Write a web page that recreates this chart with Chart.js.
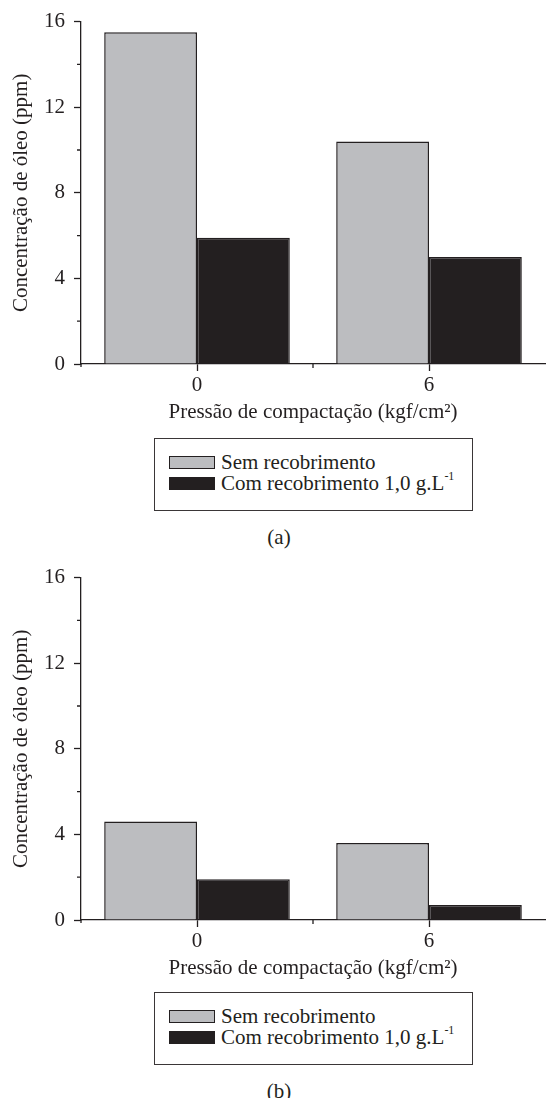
<!DOCTYPE html>
<html>
<head>
<meta charset="utf-8">
<script src="https://cdn.jsdelivr.net/npm/chart.js@4.4.0/dist/chart.umd.min.js"></script>
<style>
  body { margin: 0; background: #fff; width: 546px; height: 1098px; position: relative; overflow: hidden;
         font-family: 'Liberation Serif', 'Times New Roman', serif; color: #231f20; }
  canvas { position: absolute; left: 0; }
  .legend { position: absolute; left: 154px; width: 317px; height: 71px; border: 1px solid #3a3637; }
  .legend-row { position: absolute; left: 14px; height: 21px; line-height: 21px; display: flex; align-items: center;
                font-size: 21px; white-space: nowrap; }
  .swatch { width: 44px; height: 11px; border: 1px solid #231f20; margin-right: 6px; }
  .legend-row sup { font-size: 12px; line-height: 0; position: relative; top: -2px; }
  .caption { position: absolute; font-size: 21px; transform: translate(-50%, -50%); }
</style>
</head>
<body>
<canvas id="chart-a" width="546" height="428" style="top:0px"></canvas>
<div class="legend" id="legend-a" style="top:438px"></div>
<div class="caption" style="left:279px; top:537px">(a)</div>

<canvas id="chart-b" width="546" height="428" style="top:556px"></canvas>
<div class="legend" id="legend-b" style="top:992px"></div>
<div class="caption" style="left:279px; top:1091px">(b)</div>

<script>
// data
const categories = ['0', '6'];
const seriesLabels = ['Sem recobrimento', 'Com recobrimento 1,0 g.L^-1'];
const semRecobrimentoA = [15.5, 10.4];
const comRecobrimentoA = [5.9, 5.0];
const semRecobrimentoB = [4.6, 3.6];
const comRecobrimentoB = [1.9, 0.7];
const yMajorTicks = [0, 4, 8, 12, 16];
const yMinorTicks = [2, 6, 10, 14];

const ink = '#231f20';
const gray = '#bcbdc0';
const fontFamily = "'Liberation Serif', 'Times New Roman', serif";

// short minor ticks on the y axis and the boundary tick between groups
const minorTicks = {
    id: 'minorTicks',
    afterDraw(chart) {
        const { ctx, scales: { x, y } } = chart;
        ctx.save();
        ctx.strokeStyle = ink;
        ctx.lineWidth = 1.3;
        ctx.beginPath();
        yMinorTicks.forEach(v => {
            const py = y.getPixelForValue(v);
            ctx.moveTo(y.right - 4, py);
            ctx.lineTo(y.right, py);
        });
        const mid = (x.getPixelForTick(0) + x.getPixelForTick(1)) / 2;
        ctx.moveTo(mid, x.top);
        ctx.lineTo(mid, x.top + 4);
        ctx.moveTo(x.left, x.top);
        ctx.lineTo(x.left, x.top + 3);
        ctx.stroke();
        ctx.restore();
    }
};

function makeChart(id, semData, comData) {
    return new Chart(document.getElementById(id), {
        type: 'bar',
        data: {
            labels: categories,
            datasets: [
                { label: seriesLabels[0], data: semData, backgroundColor: gray, borderColor: ink, borderWidth: 1.5 },
                { label: seriesLabels[1], data: comData, backgroundColor: ink, borderColor: ink, borderWidth: 1.5 }
            ]
        },
        options: {
            responsive: false,
            animation: false,
            events: [],
            layout: { padding: { top: 21, right: 1, bottom: 3, left: 0 } },
            datasets: { bar: { barPercentage: 1, categoryPercentage: 0.8 } },
            plugins: { legend: { display: false }, tooltip: { enabled: false } },
            scales: {
                x: {
                    afterFit(scale) { scale.height = 61; },
                    grid: { offset: false, drawOnChartArea: false, tickLength: 7, tickColor: ink, tickWidth: 1.3 },
                    border: { color: ink, width: 1.3 },
                    ticks: { color: ink, padding: 2, font: { family: fontFamily, size: 21 } },
                    title: {
                        display: true,
                        text: 'Pressão de compactação (kgf/cm²)',
                        color: ink,
                        font: { family: fontFamily, size: 21 },
                        padding: { top: 4, bottom: 0 }
                    }
                },
                y: {
                    min: 0,
                    max: 16,
                    afterFit(scale) { scale.width = 81; },
                    afterBuildTicks(scale) { scale.ticks = yMajorTicks.map(v => ({ value: v })); },
                    grid: { drawOnChartArea: false, tickLength: 7, tickColor: ink, tickWidth: 1.3 },
                    border: { color: ink, width: 1.3 },
                    ticks: { color: ink, padding: 9, font: { family: fontFamily, size: 21 } },
                    title: {
                        display: true,
                        text: 'Concentração de óleo (ppm)',
                        color: ink,
                        font: { family: fontFamily, size: 21 },
                        padding: { top: 9, bottom: 0 }
                    }
                }
            }
        },
        plugins: [minorTicks]
    });
}

function buildLegend(chart, el) {
    chart.data.datasets.forEach((ds, i) => {
        const row = document.createElement('div');
        row.className = 'legend-row';
        row.style.top = (13 + i * 21) + 'px';
        const sw = document.createElement('span');
        sw.className = 'swatch';
        sw.style.background = ds.backgroundColor;
        row.appendChild(sw);
        const parts = ds.label.split('^');
        const txt = document.createElement('span');
        txt.textContent = parts[0];
        if (parts[1]) {
            const sup = document.createElement('sup');
            sup.textContent = parts[1];
            txt.appendChild(sup);
        }
        row.appendChild(txt);
        el.appendChild(row);
    });
}

const chartA = makeChart('chart-a', semRecobrimentoA, comRecobrimentoA);
const chartB = makeChart('chart-b', semRecobrimentoB, comRecobrimentoB);
buildLegend(chartA, document.getElementById('legend-a'));
buildLegend(chartB, document.getElementById('legend-b'));
</script>
</body>
</html>
